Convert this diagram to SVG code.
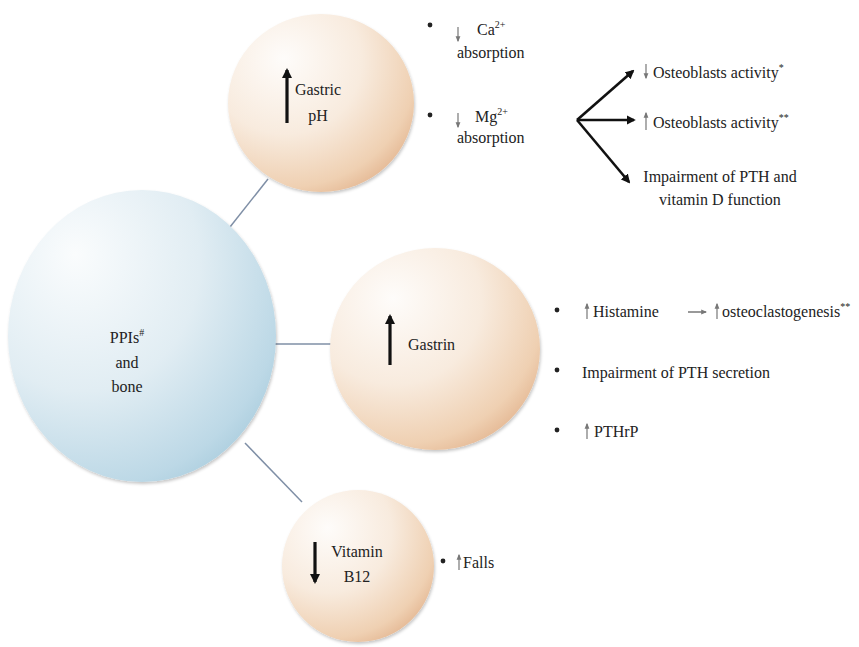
<svg xmlns="http://www.w3.org/2000/svg" width="859" height="647" viewBox="0 0 859 647">
<style>
text{font-family:"Liberation Serif","Times New Roman",serif;font-size:16px;fill:#222}
.sup{font-size:10px}
.conn{stroke:#7f8fa6;stroke-width:1.5;fill:none}
.big{stroke:#111;stroke-width:3.2;fill:none}
.thin{stroke:#777;stroke-width:1.2;fill:none}
.br{stroke:#111;stroke-width:2.6;fill:none}
.dot{fill:#222}
</style>
<defs>
<radialGradient id="peach" cx="0.32" cy="0.28" r="0.82" fx="0.3" fy="0.25">
<stop offset="0" stop-color="#fefcfa"/>
<stop offset="0.5" stop-color="#f8ebde"/>
<stop offset="0.85" stop-color="#efd0b2"/>
<stop offset="1" stop-color="#e3b590"/>
</radialGradient>
<radialGradient id="blue" cx="0.3" cy="0.28" r="0.88" fx="0.25" fy="0.22">
<stop offset="0" stop-color="#fafcfd"/>
<stop offset="0.5" stop-color="#e1edf3"/>
<stop offset="0.85" stop-color="#bcd8e6"/>
<stop offset="1" stop-color="#a2c8da"/>
</radialGradient>
<filter id="sh" x="-10%" y="-10%" width="120%" height="120%">
<feDropShadow dx="1" dy="2" stdDeviation="1.8" flood-color="#000" flood-opacity="0.22"/>
</filter>
<marker id="ah" viewBox="0 0 10 10" refX="8" refY="5" markerWidth="3.2" markerHeight="3.2" orient="auto">
<path d="M0,0 L10,5 L0,10 z" fill="#111"/>
</marker>
<marker id="ahb" viewBox="0 0 10 10" refX="8" refY="5" markerWidth="3.5" markerHeight="3.5" orient="auto">
<path d="M0,0 L10,5 L0,10 z" fill="#111"/>
</marker>
<marker id="aht" viewBox="0 0 10 10" refX="8" refY="5" markerWidth="5" markerHeight="5" orient="auto">
<path d="M0,1 L10,5 L0,9 z" fill="#777"/>
</marker>
</defs>

<g id="connectors">
<line class="conn" x1="230" y1="227" x2="268" y2="179"/>
<line class="conn" x1="275" y1="344" x2="331" y2="344"/>
<line class="conn" x1="245" y1="443" x2="302" y2="502"/>
</g>

<g id="ppis">
<ellipse cx="142" cy="336" rx="134" ry="146" fill="url(#blue)" filter="url(#sh)"/>
<text x="127" y="343" text-anchor="middle">PPIs<tspan class="sup" dy="-7">#</tspan></text>
<text x="127" y="368" text-anchor="middle">and</text>
<text x="127" y="392" text-anchor="middle">bone</text>
</g>

<g id="gastric-ph">
<ellipse cx="321" cy="103" rx="93" ry="89" fill="url(#peach)" filter="url(#sh)"/>
<line class="big" x1="287" y1="123" x2="287" y2="70" marker-end="url(#ah)"/>
<text x="318" y="95" text-anchor="middle">Gastric</text>
<text x="318" y="121" text-anchor="middle">pH</text>
</g>

<g id="gastrin">
<ellipse cx="435" cy="349" rx="105" ry="101" fill="url(#peach)" filter="url(#sh)"/>
<line class="big" x1="390" y1="365" x2="390" y2="316" marker-end="url(#ah)"/>
<text x="408" y="350">Gastrin</text>
</g>

<g id="vitamin-b12">
<ellipse cx="358" cy="566" rx="76" ry="76" fill="url(#peach)" filter="url(#sh)"/>
<line class="big" x1="315" y1="542" x2="315" y2="582" marker-end="url(#ah)"/>
<text x="357" y="557" text-anchor="middle">Vitamin</text>
<text x="357" y="582" text-anchor="middle">B12</text>
</g>

<g id="ph-effects">
<circle class="dot" cx="430" cy="25" r="2.4"/>
<line class="thin" x1="458" y1="27" x2="458" y2="41" marker-end="url(#aht)"/>
<text x="477" y="35">Ca<tspan class="sup" dy="-7">2+</tspan></text>
<text x="457" y="58">absorption</text>
<circle class="dot" cx="430" cy="115" r="2.4"/>
<line class="thin" x1="458" y1="113" x2="458" y2="127" marker-end="url(#aht)"/>
<text x="475" y="122">Mg<tspan class="sup" dy="-7">2+</tspan></text>
<text x="457" y="143">absorption</text>
</g>

<g id="branch-arrows">
<line class="br" x1="577" y1="120" x2="633" y2="71" marker-end="url(#ahb)"/>
<line class="br" x1="577" y1="120" x2="634" y2="120" marker-end="url(#ahb)"/>
<line class="br" x1="577" y1="120" x2="629" y2="182" marker-end="url(#ahb)"/>
</g>

<g id="mg-effects">
<line class="thin" x1="646" y1="64" x2="646" y2="78" marker-end="url(#aht)"/>
<text x="653" y="78">Osteoblasts activity<tspan class="sup" dy="-7">*</tspan></text>
<line class="thin" x1="646" y1="130" x2="646" y2="113" marker-end="url(#aht)"/>
<text x="653" y="128">Osteoblasts activity<tspan class="sup" dy="-7">**</tspan></text>
<text x="720" y="182" text-anchor="middle">Impairment of PTH and</text>
<text x="720" y="205" text-anchor="middle">vitamin D function</text>
</g>

<g id="gastrin-effects">
<circle class="dot" cx="557" cy="310" r="2.4"/>
<line class="thin" x1="587" y1="319" x2="587" y2="304" marker-end="url(#aht)"/>
<text x="593" y="317">Histamine</text>
<line stroke="#555" stroke-width="1.2" x1="688" y1="312" x2="706" y2="312" marker-end="url(#aht)"/>
<line class="thin" x1="717" y1="319" x2="717" y2="304" marker-end="url(#aht)"/>
<text x="722" y="317">osteoclastogenesis<tspan class="sup" dy="-7">**</tspan></text>
<circle class="dot" cx="557" cy="370" r="2.4"/>
<text x="582" y="378">Impairment of PTH secretion</text>
<circle class="dot" cx="557" cy="430" r="2.4"/>
<line class="thin" x1="587" y1="439" x2="587" y2="424" marker-end="url(#aht)"/>
<text x="594" y="437">PTHrP</text>
</g>

<g id="b12-effects">
<circle class="dot" cx="443" cy="561" r="2.4"/>
<line class="thin" x1="459" y1="570" x2="459" y2="555" marker-end="url(#aht)"/>
<text x="463" y="568">Falls</text>
</g>
</svg>
